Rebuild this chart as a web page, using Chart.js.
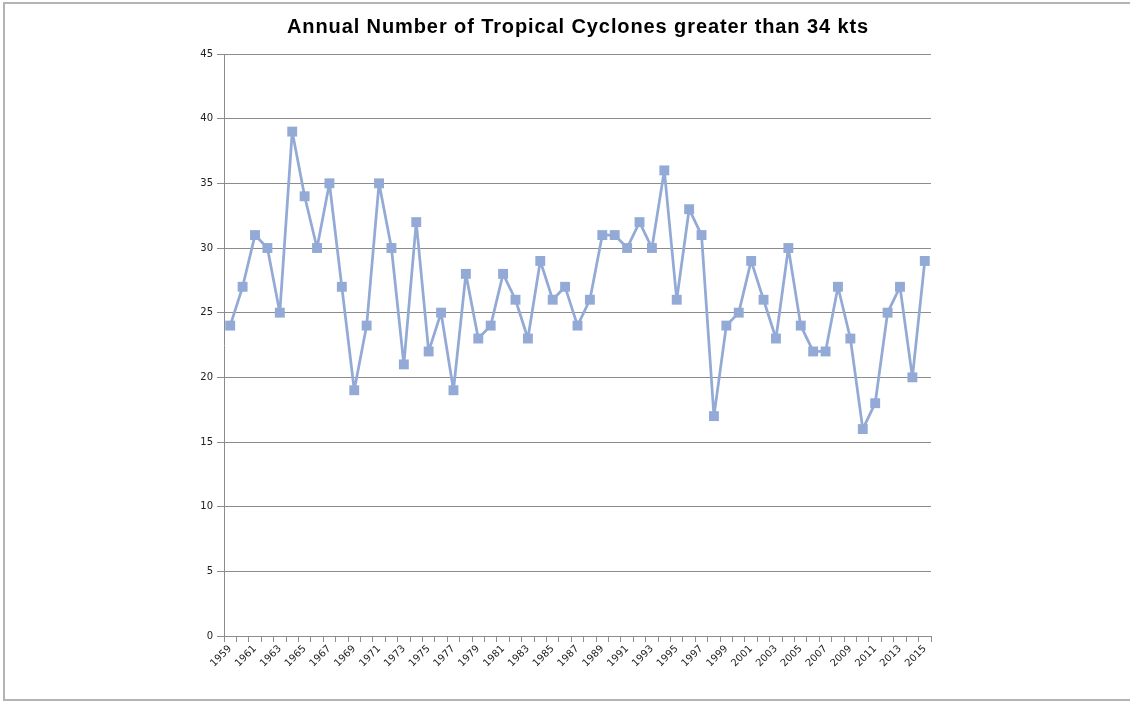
<!DOCTYPE html>
<html>
<head>
<meta charset="utf-8">
<title>Annual Number of Tropical Cyclones</title>
<script src="https://cdn.jsdelivr.net/npm/chart.js@4.4.1/dist/chart.umd.min.js"></script>
<style>
    html, body { margin: 0; padding: 0; background: #fff; }
    #wrap { width: 1130px; height: 702px; position: relative; }
</style>
</head>
<body>
<div id="wrap"><canvas id="cyclones" width="1130" height="702"></canvas></div>
<script>
var years = [];
for (var y = 1959; y <= 2015; y++) { years.push(String(y)); }

var cyclones = [
    24, 27, 31, 30, 25, 39, 34, 30, 35, 27,
    19, 24, 35, 30, 21, 32, 22, 25, 19, 28,
    23, 24, 28, 26, 23, 29, 26, 27, 24, 26,
    31, 31, 30, 32, 30, 36, 26, 33, 31, 17,
    24, 25, 29, 26, 23, 30, 24, 22, 22, 27,
    23, 16, 18, 25, 27, 20, 29
];

var yTicks = [0, 5, 10, 15, 20, 25, 30, 35, 40, 45];

var chartTitle = 'Annual Number of Tropical Cyclones greater than 34 kts';

var seriesColor = '#93aad6';
var gridColor = '#8c8c8c';

// grey frame round the chart (left, top and bottom edges only) + title
var framePlugin = {
    id: 'frame',
    beforeDraw: function (chart) {
        var ctx = chart.ctx;
        ctx.save();
        ctx.strokeStyle = '#b4b4b4';
        ctx.lineWidth = 2;
        ctx.beginPath();
        ctx.moveTo(1130, 3);
        ctx.lineTo(4, 3);
        ctx.lineTo(4, 700);
        ctx.lineTo(1130, 700);
        ctx.stroke();

        ctx.fillStyle = '#000';
        ctx.font = 'bold 20px "Liberation Sans"';
        ctx.letterSpacing = '0.9px';
        ctx.textAlign = 'center';
        ctx.textBaseline = 'middle';
        ctx.fillText(chartTitle, 578, 27);
        ctx.restore();
    }
};

var config = {
    type: 'line',
    data: {
        labels: years,
        datasets: [{
            label: 'Tropical cyclones',
            data: cyclones,
            borderColor: seriesColor,
            backgroundColor: seriesColor,
            borderWidth: 2.75,
            borderJoinStyle: 'round',
            pointStyle: 'rect',
            pointRadius: 7,
            pointHoverRadius: 7,
            pointBorderWidth: 0,
            tension: 0
        }]
    },
    options: {
        responsive: false,
        animation: false,
        layout: {
            padding: { left: 0, right: 199, top: 54, bottom: 0 }
        },
        plugins: {
            legend: { display: false },
            tooltip: { enabled: false },
            title: { display: false }
        },
        scales: {
            x: {
                type: 'category',
                offset: true,
                grid: {
                    offset: true,
                    drawOnChartArea: false,
                    drawTicks: true,
                    tickLength: 6,
                    color: gridColor
                },
                border: { color: gridColor, width: 1 },
                ticks: {
                    autoSkip: false,
                    maxRotation: 45,
                    minRotation: 45,
                    padding: 1,
                    color: '#222',
                    font: { family: 'DejaVu Sans', size: 10 },
                    callback: function (value, index) {
                        return index % 2 === 0 ? years[index] : '';
                    }
                },
                afterFit: function (scale) { scale.height = 66; }
            },
            y: {
                min: 0,
                max: 45,
                afterBuildTicks: function (scale) {
                    scale.ticks = yTicks.map(function (v) { return { value: v }; });
                },
                grid: {
                    color: gridColor,
                    tickLength: 7
                },
                border: { color: gridColor, width: 1 },
                ticks: {
                    padding: 4,
                    color: '#222',
                    font: { family: 'DejaVu Sans', size: 10 }
                },
                afterFit: function (scale) { scale.width = 224; }
            }
        }
    },
    plugins: [framePlugin]
};

var myChart = new Chart(document.getElementById('cyclones').getContext('2d'), config);
</script>
</body>
</html>
